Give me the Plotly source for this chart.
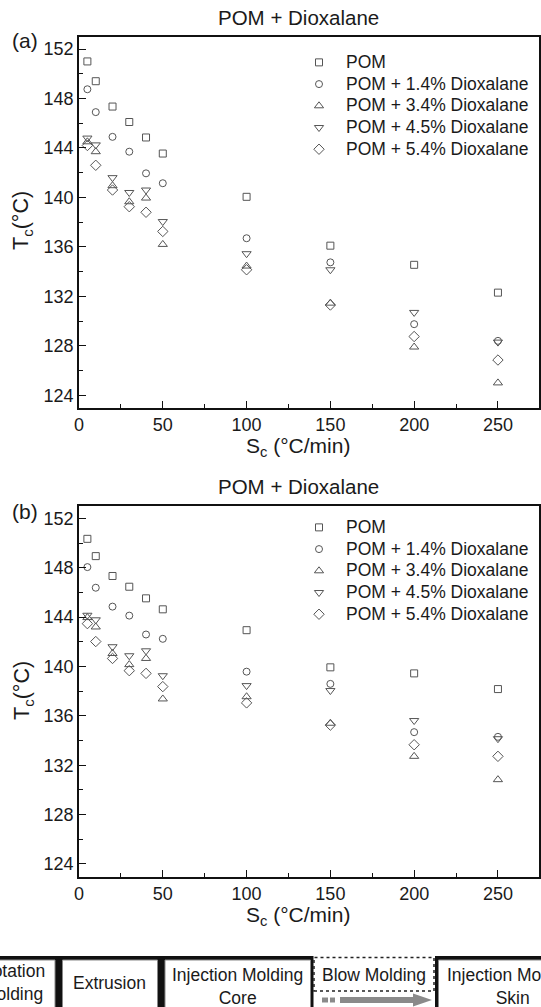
import plotly.graph_objects as go

W, H = 541, 1007

# ---------------- data ----------------
rates = [5, 10, 20, 30, 40, 50, 100, 150, 200, 250]
series_names = ["POM", "POM + 1.4% Dioxalane", "POM + 3.4% Dioxalane",
                "POM + 4.5% Dioxalane", "POM + 5.4% Dioxalane"]

# panel (a)
a_pom = [151.0, 149.4, 147.35, 146.1, 144.85, 143.55, 140.05, 136.1, 134.55, 132.3]
a_d14 = [148.75, 146.9, 144.9, 143.7, 141.95, 141.15, 136.7, 134.75, 129.75, 128.4]
a_d34 = [144.5, 143.7, 140.95, 139.65, 139.95, 136.2, 134.45, 131.45, 127.9, 125.0]
a_d45 = [144.8, 144.25, 141.6, 140.4, 140.6, 138.05, 135.45, 134.15, 130.7, 128.3]
a_d54 = [144.2, 142.6, 140.6, 139.25, 138.8, 137.25, 134.15, 131.3, 128.75, 126.85]

# panel (b)
b_pom = [150.34, 148.94, 147.33, 146.46, 145.52, 144.63, 142.94, 139.93, 139.44, 138.17]
b_d14 = [148.05, 146.38, 144.85, 144.12, 142.59, 142.24, 139.58, 138.59, 134.68, 134.3]
b_d34 = [143.96, 143.2, 141.05, 140.15, 140.65, 137.37, 137.55, 135.4, 132.72, 130.83]
b_d45 = [144.15, 143.78, 141.6, 140.87, 141.27, 139.25, 138.45, 138.05, 135.62, 134.15]
b_d54 = [143.47, 142.02, 140.65, 139.66, 139.44, 138.37, 137.05, 135.25, 133.66, 132.72]

y_ticks = [124, 128, 132, 136, 140, 144, 148, 152]
x_ticks = [0, 50, 100, 150, 200, 250]

symbols = ["square-open", "circle-open", "triangle-up-open",
           "triangle-down-open", "diamond-open"]
sizes = [7, 7, 8, 8, 8]
MC = "#555555"
FONT = "Liberation Sans, Arial, sans-serif"
TXT = "#1a1a1a"

def px(x):
    return x / W

def py(y):
    return 1 - y / H

def legend_label(name):
    return f'<span style="font-size:17.5px">{name}</span>'

fig = go.Figure()

for vals, name, sym, sz in zip([a_pom, a_d14, a_d34, a_d45, a_d54], series_names, symbols, sizes):
    fig.add_trace(go.Scatter(x=rates, y=vals, mode="markers", name=legend_label(name),
                             marker=dict(symbol=sym, size=sz, color=MC, line=dict(width=1, color=MC)),
                             xaxis="x", yaxis="y", legend="legend"))
for vals, name, sym, sz in zip([b_pom, b_d14, b_d34, b_d45, b_d54], series_names, symbols, sizes):
    fig.add_trace(go.Scatter(x=rates, y=vals, mode="markers", name=legend_label(name),
                             marker=dict(symbol=sym, size=sz, color=MC, line=dict(width=1, color=MC)),
                             xaxis="x2", yaxis="y2", legend="legend2"))

xdom = [px(79), px(539)]
ydom_a = [py(408), py(36.7)]
ydom_b = [py(876.7), py(506)]

def xaxis_cfg(anchor):
    return dict(domain=xdom, anchor=anchor, range=[0, 274.5], tickvals=x_ticks,
                ticks="inside", ticklen=7, tickwidth=1.3, tickcolor="#111",
                minor=dict(dtick=25, tick0=0, ticks="inside", ticklen=4, tickwidth=1.2, tickcolor="#111"),
                showline=True, linecolor="#111", linewidth=1.6, mirror=True,
                showgrid=False, zeroline=False, automargin=False,
                tickfont=dict(family=FONT, size=18, color=TXT))

def yaxis_cfg(anchor, dom):
    return dict(domain=dom, anchor=anchor, range=[122.97, 153.0], tickvals=y_ticks,
                ticks="inside", ticklen=7, tickwidth=1.3, tickcolor="#111",
                minor=dict(dtick=2, tick0=0, ticks="inside", ticklen=4, tickwidth=1.2, tickcolor="#111"),
                showline=True, linecolor="#111", linewidth=1.6, mirror=True,
                showgrid=False, zeroline=False, automargin=False,
                tickfont=dict(family=FONT, size=18, color=TXT))

legend_common = dict(font=dict(family=FONT, size=14.4, color=TXT), bgcolor="rgba(0,0,0,0)",
                     borderwidth=0, xanchor="left", yanchor="top", itemwidth=44,
                     tracegroupgap=0)

annotations = []
def ann(text, x, y, size=17.5, angle=0, xanchor="center"):
    annotations.append(dict(text=text, x=px(x), y=py(y), xref="paper", yref="paper",
                            showarrow=False, textangle=angle, xanchor=xanchor, yanchor="middle",
                            font=dict(family=FONT, size=size, color=TXT)))

# titles and labels
ann("POM + Dioxalane", 298, 18, size=20.5)
ann("POM + Dioxalane", 298, 486, size=20.5)
ann("(a)", 25, 40, size=21)
ann("(b)", 25, 511, size=21)
ann("S<sub>c</sub> (°C/min)", 298, 447, size=21)
ann("S<sub>c</sub> (°C/min)", 298, 916, size=21)
ann("T<sub>c</sub>(°C)", 23, 221, size=21.5, angle=-90)
ann("T<sub>c</sub>(°C)", 23, 691, size=21.5, angle=-90)

# bottom process strip (decorative)
shapes = []
def rect(x0, y0, x1, y1, fill, lc=None, lw=0, dash="solid"):
    shapes.append(dict(type="rect", xref="paper", yref="paper",
                       x0=px(x0), x1=px(x1), y0=py(y1), y1=py(y0),
                       fillcolor=fill, line=dict(color=lc or fill, width=lw, dash=dash),
                       layer="above"))

rect(-5, 956, 313.5, 1012, "#111")
rect(-5, 960, 55, 1012, "white", "#888", 1)
rect(62.5, 960, 157.5, 1012, "white", "#888", 1)
rect(165, 960, 310.5, 1012, "white", "#888", 1)
rect(314, 957.5, 434, 991, "white", "#222", 1.5, "dot")
rect(435, 956, 548, 1012, "#111")
rect(438.5, 960, 548, 1012, "white", "#888", 1)
# arrow
rect(322, 997.5, 328, 1002.5, "#8a8a8a")
rect(330, 997.5, 335, 1002.5, "#8a8a8a")
rect(340, 997, 414, 1003, "#8a8a8a")
shapes.append(dict(type="path", xref="paper", yref="paper",
                   path=f"M {px(413)} {py(993.5)} L {px(432)} {py(1000)} L {px(413)} {py(1006.5)} Z",
                   fillcolor="#8a8a8a", line=dict(width=0), layer="above"))

ann("Rotation<br>Molding", 12, 982)
ann("Extrusion", 109, 983)
ann("Injection Molding<br>Core", 237, 986)
ann("Blow Molding", 374, 975)
ann("Injection Molding<br>Skin", 512, 986)

fig.update_layout(
    width=W, height=H, margin=dict(l=0, r=0, t=0, b=0),
    paper_bgcolor="white", plot_bgcolor="white", showlegend=True,
    xaxis=xaxis_cfg("y"), yaxis=yaxis_cfg("x", ydom_a),
    xaxis2=xaxis_cfg("y2"), yaxis2=yaxis_cfg("x2", ydom_b),
    legend=dict(x=px(292), y=py(46.5), **legend_common),
    legend2=dict(x=px(292), y=py(511.5), **legend_common),
    annotations=annotations, shapes=shapes,
)

fig.write_html("out.html")
